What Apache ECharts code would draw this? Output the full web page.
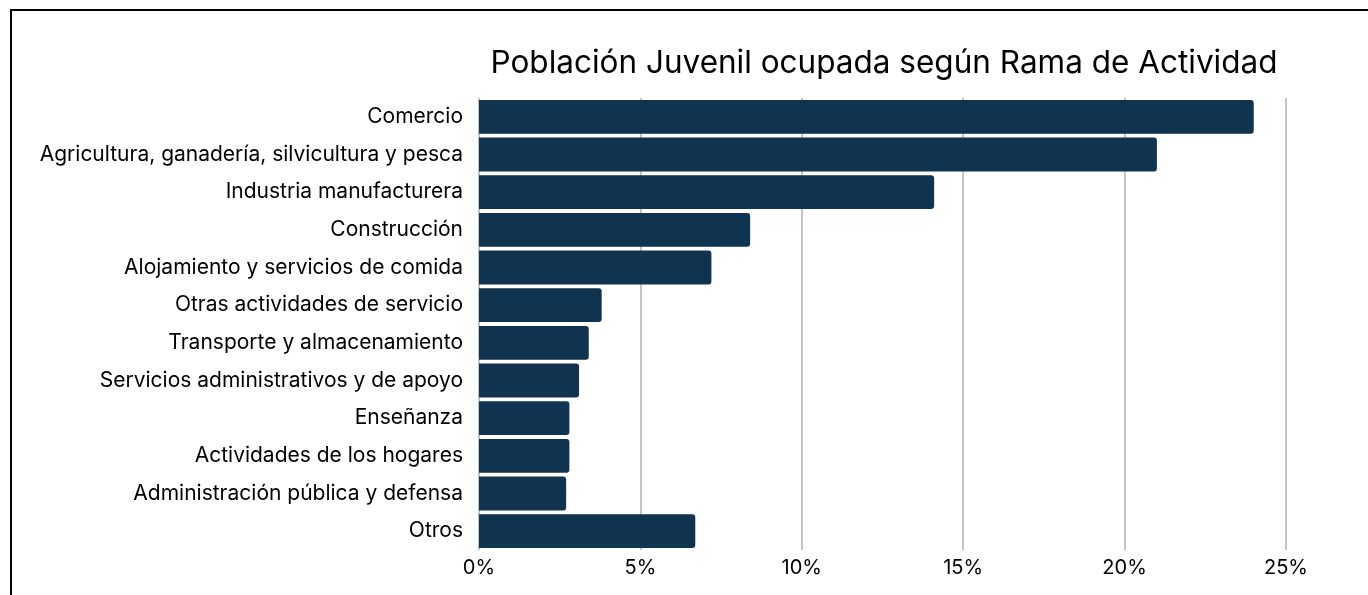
<!DOCTYPE html>
<html><head><meta charset="utf-8">
<script src="https://cdn.jsdelivr.net/npm/echarts@6/dist/echarts.min.js"></script>
<style>
html,body{margin:0;padding:0;background:#fff;width:1368px;height:595px;overflow:hidden}
#frame{position:absolute;left:10px;top:9px;width:1400px;height:700px;border-left:2px solid #000;border-top:2px solid #000}
#c{position:absolute;left:0;top:0;width:1368px;height:595px}
</style></head><body>
<div id="frame"></div>
<div id="c"></div>
<script>
const categories = ["Comercio","Agricultura, ganadería, silvicultura y pesca","Industria manufacturera","Construcción","Alojamiento y servicios de comida","Otras actividades de servicio","Transporte y almacenamiento","Servicios administrativos y de apoyo","Enseñanza","Actividades de los hogares","Administración pública y defensa","Otros"];
const values = [24.0, 21.0, 14.1, 8.4, 7.2, 3.8, 3.4, 3.1, 2.8, 2.8, 2.7, 6.7];
const title = "Población Juvenil ocupada según Rama de Actividad";
const chart = echarts.init(document.getElementById('c'));
chart.setOption({
  animation:false,
  title:{text:title,left:879,top:43,textAlign:'center',textStyle:{fontFamily:'Inter',fontSize:31.5,fontWeight:'normal',color:'#000'}},
  grid:{left:479,right:82,top:98,bottom:45,containLabel:false},
  xAxis:{type:'value',min:0,max:25,interval:5,
    axisLabel:{formatter:'{value}%',fontFamily:'Inter',fontSize:20,color:'#000',margin:8},
    splitLine:{show:true,lineStyle:{color:'#c4c4c4',width:2}},
    axisLine:{show:false},axisTick:{show:false}},
  yAxis:{type:'category',data:categories,inverse:true,
    axisLabel:{fontFamily:'Inter',fontSize:21,color:'#000',margin:16},
    axisLine:{show:false},axisTick:{show:false}},
  series:[{type:'bar',data:values,barCategoryGap:'10%',
    itemStyle:{color:'#10344f',borderRadius:[0,3,3,0]}}]
});
</script></body></html>
